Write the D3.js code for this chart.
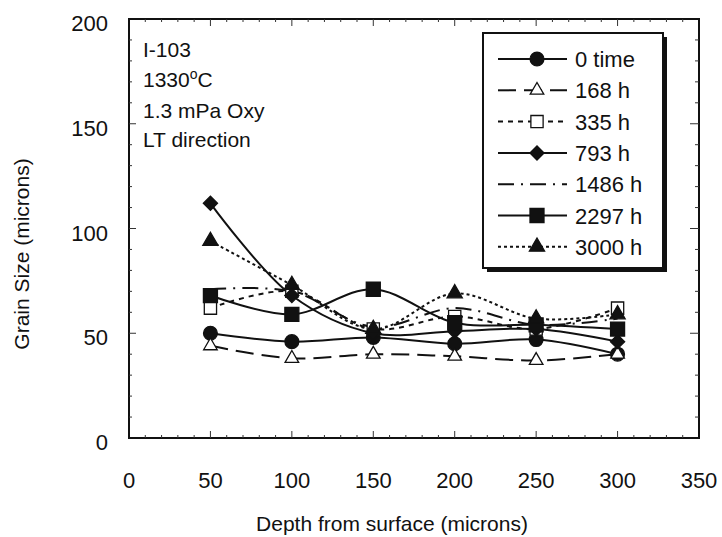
<!DOCTYPE html>
<html>
<head>
<meta charset="utf-8">
<script src="https://cdn.jsdelivr.net/npm/d3@7"></script>
<style>
  body { margin: 0; background: #fff; }
  text { font-family: "Liberation Sans", Arial, sans-serif; fill: #111; }
</style>
</head>
<body>
<div id="container"></div>
<script>
const depths = [50, 100, 150, 200, 250, 300]
const seriesNames = ["0 time", "168 h", "335 h", "793 h", "1486 h", "2297 h", "3000 h"]
const time0 = [50, 46, 48, 45, 47, 40]
const h168 = [44, 38, 40, 39, 37, 40]
const h335 = [62, 70, 52, 58, 52, 62]
const h793 = [112, 68, 50, 51, 52, 46]
const h1486 = [71, 70, 53, 62, 54, 57]
const h2297 = [68, 59, 71, 55, 54, 52]
const h3000 = [94, 73, 52, 69, 57, 59]
const xTicks = [0, 50, 100, 150, 200, 250, 300, 350]
const yTicks = [0, 50, 100, 150, 200]
const notes = ["I-103", "1330°C", "1.3 mPa Oxy", "LT direction"]

const styles = [
    { values: time0, dash: null, symbol: d3.symbolCircle, size: 150, fill: "#111", rot: 0 },
    { values: h168, dash: "18,8", symbol: d3.symbolTriangle, size: 80, fill: "#fff", rot: 0 },
    { values: h335, dash: "5,5", symbol: d3.symbolSquare, size: 150, fill: "#fff", rot: 0 },
    { values: h793, dash: null, symbol: d3.symbolSquare, size: 100, fill: "#111", rot: 45 },
    { values: h1486, dash: "16,7,2,7", symbol: null },
    { values: h2297, dash: null, symbol: d3.symbolSquare, size: 196, fill: "#111", rot: 0 },
    { values: h3000, dash: "3,3", symbol: d3.symbolTriangle, size: 100, fill: "#111", rot: 0 }
]

const width = 722, height = 537
const svg = d3.select('#container').append('svg')
    .attr('width', width).attr('height', height)

const xScale = d3.scaleLinear().domain([0, 350]).range([129, 699])
const yScale = d3.scaleLinear().domain([0, 200]).range([438, 19])

// frame + inside ticks
const frame = svg.append("g")
frame.append("rect")
    .attr("x", xScale(0)).attr("y", yScale(200))
    .attr("width", xScale(350) - xScale(0)).attr("height", yScale(0) - yScale(200))
    .attr("fill", "none").attr("stroke", "#111").attr("stroke-width", 2)

const xMinor = d3.range(10, 350, 10)
const yMinor = d3.range(10, 200, 10)
frame.selectAll(".xt").data(xMinor).enter().append("line")
    .attr("x1", d => xScale(d)).attr("x2", d => xScale(d))
    .attr("y1", yScale(0)).attr("y2", d => yScale(0) - (d % 50 === 0 ? 7 : 3))
    .attr("stroke", "#333").attr("stroke-width", 1)
frame.selectAll(".xtt").data(xMinor).enter().append("line")
    .attr("x1", d => xScale(d)).attr("x2", d => xScale(d))
    .attr("y1", yScale(200)).attr("y2", d => yScale(200) + (d % 50 === 0 ? 7 : 3))
    .attr("stroke", "#333").attr("stroke-width", 1)
frame.selectAll(".yt").data(yMinor).enter().append("line")
    .attr("y1", d => yScale(d)).attr("y2", d => yScale(d))
    .attr("x1", xScale(0)).attr("x2", d => xScale(0) + (d % 50 === 0 ? 7 : 3))
    .attr("stroke", "#333").attr("stroke-width", 1)
frame.selectAll(".ytr").data(yMinor).enter().append("line")
    .attr("y1", d => yScale(d)).attr("y2", d => yScale(d))
    .attr("x1", xScale(350)).attr("x2", d => xScale(350) - (d % 50 === 0 ? 9 : 4))
    .attr("stroke", "#333").attr("stroke-width", 1)

svg.selectAll(".xl").data(xTicks).enter().append("text")
    .attr("x", d => xScale(d)).attr("y", 488)
    .attr("text-anchor", "middle").attr("font-size", 22)
    .text(d => d)
svg.selectAll(".yl").data(yTicks).enter().append("text")
    .attr("x", 108).attr("y", d => yScale(d) + 12)
    .attr("text-anchor", "end").attr("font-size", 22)
    .text(d => d)

svg.append("text").attr("x", 392).attr("y", 531)
    .attr("text-anchor", "middle").attr("font-size", 21)
    .text("Depth from surface (microns)")
svg.append("text")
    .attr("transform", "translate(29, 254) rotate(-90)")
    .attr("text-anchor", "middle").attr("font-size", 21)
    .text("Grain Size (microns)")

const noteY = [57, 87, 118, 147]
svg.selectAll(".note").data(notes).enter().append("text")
    .attr("x", 143).attr("y", (d, i) => noteY[i])
    .attr("font-size", 21)
    .each(function (d) {
        const t = d3.select(this)
        if (d.includes("°")) {
            t.append("tspan").text(d.split("°")[0])
            t.append("tspan").attr("dy", -8).attr("font-size", 14).text("o")
            t.append("tspan").attr("dy", 8).text(d.split("°")[1])
        } else {
            t.text(d)
        }
    })

// series
const line = d3.line()
    .x((d, i) => xScale(depths[i]))
    .y(d => yScale(d))
    .curve(d3.curveCatmullRom.alpha(0.5))

const plot = svg.append("g")
styles.forEach(s => {
    plot.append("path")
        .attr("d", line(s.values))
        .attr("fill", "none").attr("stroke", "#111").attr("stroke-width", 2)
        .attr("stroke-dasharray", s.dash)
})
styles.forEach(s => {
    if (!s.symbol) return
    plot.selectAll(null).data(s.values).enter().append("path")
        .attr("d", d3.symbol().type(s.symbol).size(s.size))
        .attr("transform", (d, i) => `translate(${xScale(depths[i])},${yScale(d)}) rotate(${s.rot})`)
        .attr("fill", s.fill).attr("stroke", "#111").attr("stroke-width", 1.3)
})

// legend
const lg = svg.append("g")
const lx = 483, ly = 33, lw = 180, lh = 235
lg.append("rect").attr("x", lx + 4).attr("y", ly + 4).attr("width", lw).attr("height", lh).attr("fill", "#111")
lg.append("rect").attr("x", lx).attr("y", ly).attr("width", lw).attr("height", lh)
    .attr("fill", "#fff").attr("stroke", "#111").attr("stroke-width", 2)

seriesNames.forEach((name, i) => {
    const s = styles[i]
    const y = 59 + i * 31.3
    lg.append("line").attr("x1", 498).attr("x2", 567).attr("y1", y).attr("y2", y)
        .attr("stroke", "#111").attr("stroke-width", 2).attr("stroke-dasharray", s.dash)
    if (s.symbol) {
        lg.append("path")
            .attr("d", d3.symbol().type(s.symbol).size(s.size))
            .attr("transform", `translate(537,${y}) rotate(${s.rot})`)
            .attr("fill", s.fill).attr("stroke", "#111").attr("stroke-width", 1.3)
    }
    lg.append("text").attr("x", 575).attr("y", y + 8)
        .attr("font-size", 22).text(name)
})
</script>
</body>
</html>
